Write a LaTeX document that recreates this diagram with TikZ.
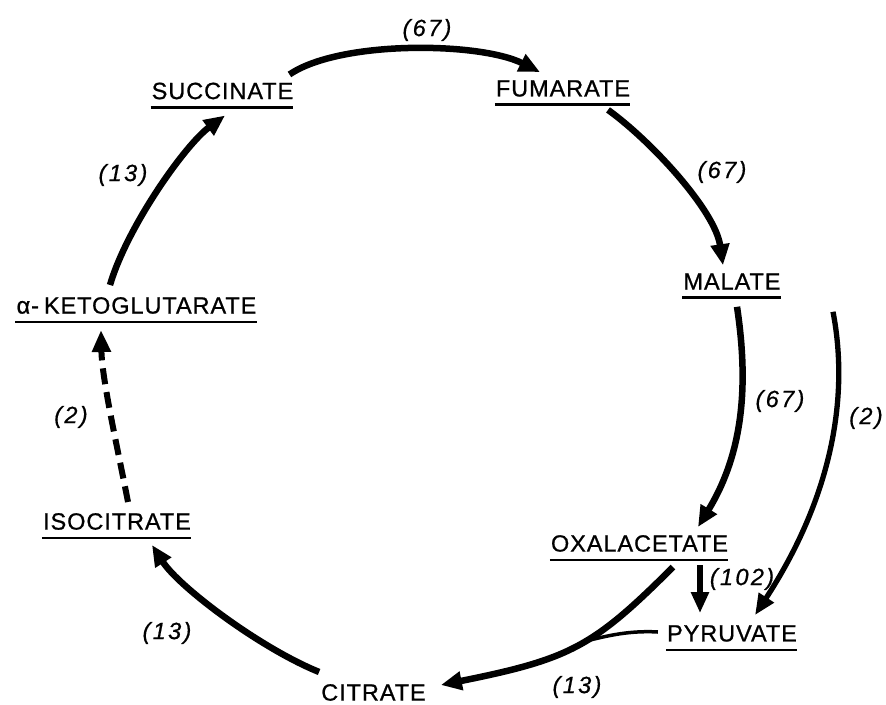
\documentclass[tikz,border=0pt]{standalone}
\usepackage{fontspec}
\setmainfont{Liberation Sans}
\newfontfamily\chemfont[LetterSpace=4,FakeBold=0.8]{Liberation Sans}
\newfontfamily\numfont[LetterSpace=10,FakeBold=0.6]{Liberation Sans}
\usetikzlibrary{arrows.meta}
\tikzset{
  chem/.style={font=\chemfont\fontsize{23.5}{23.5}\selectfont, inner sep=0pt},
  num/.style={font=\numfont\itshape\fontsize{23.5}{23.5}\selectfont, inner sep=0pt},
  ulline/.style={line width=2.8pt},
  flow/.style={line width=6.5pt, -{Triangle[length=21pt,width=18pt]}},
  thinflow/.style={line width=5.3pt, -{Triangle[length=21pt,width=17pt]}},
  joinline/.style={line width=3.5pt},
  dashflow/.style={line width=6pt, dash pattern=on 16pt off 8pt, -{Triangle[length=22pt,width=18pt]}},
}
\newcommand\underlinenode[1]{\draw[ulline] ([xshift=-1pt,yshift=-8pt]#1.south west) -- ([yshift=-8pt]#1.south east);}
\begin{document}
\begin{tikzpicture}[x=1pt,y=-1pt]
\useasboundingbox (0,0) rectangle (886,704);
% metabolites
\node[chem] (succ) at (222.5,91) {SUCCINATE};
\node[chem] (fum) at (563,88.5) {FUMARATE};
\node[chem] (mal) at (732,281.5) {MALATE};
\node[chem] (akg) at (136.5,305.5) {α-\hspace{5pt}KETOGLUTARATE};
\node[chem] (iso) at (117,521.5) {ISOCITRATE};
\node[chem] (oxa) at (639.5,543.5) {OXALACETATE};
\node[chem] (pyr) at (732,633.5) {PYRUVATE};
\node[chem] (cit) at (373.5,692.5) {CITRATE};
\underlinenode{succ}
\underlinenode{fum}
\underlinenode{mal}
\underlinenode{akg}
\underlinenode{iso}
\underlinenode{oxa}
\underlinenode{pyr}
% flux labels
\node[num] (l1) at (427,30) {(67)};
\node[num] (l2) at (722,172) {(67)};
\node[num] (l3) at (123,175) {(13)};
\node[num] (l4) at (780,401) {(67)};
\node[num] (l5) at (866,418) {(2)};
\node[num] (l6) at (71,417) {(2)};
\node[num] (l7) at (167,633) {(13)};
\node[num] (l8) at (742,579) {(102)};
\node[num] (l9) at (577,687) {(13)};
% connectors
\draw[flow] ([xshift=-4pt,yshift=8pt]succ.north east) .. controls (340,40) and (480,42) .. ([xshift=-23pt,yshift=8pt]fum.north);
\draw[flow] ([xshift=45pt,yshift=-13pt]fum.south) .. controls (650,140) and (715,210) .. ([xshift=-9pt,yshift=8pt]mal.north);
\draw[flow] ([xshift=5pt,yshift=-17pt]mal.south) .. controls (748,380) and (745,450) .. ([xshift=58.5pt,yshift=8pt]oxa.north);
\draw[thinflow] ([xshift=101pt,yshift=-22pt]mal.south) .. controls (850,400) and (830,500) .. ([xshift=23pt,yshift=10pt]pyr.north);
\draw[thinflow] ([xshift=60.5pt,yshift=-13pt]oxa.south) -- ([xshift=-32pt,yshift=12pt]pyr.north);
\draw[flow] ([xshift=33.5pt,yshift=-15pt]oxa.south) .. controls (593,647) and (570,659) .. ([xshift=15pt,yshift=7.5pt]cit.east) coordinate[pos=0.45] (join);
\draw[joinline] ([xshift=-9pt,yshift=1.5pt]pyr.west) .. controls (625,630) and (600,638) .. (join);
\draw[flow] ([xshift=-2pt,yshift=12pt]cit.north west) .. controls (260,648) and (179,587) .. ([xshift=35pt,yshift=-15pt]iso.south);
\draw[dashflow] ([xshift=11pt,yshift=11pt]iso.north) .. controls (118,450) and (102,380) .. ([xshift=-35.5pt,yshift=-16pt]akg.south);
\draw[flow] ([xshift=-26.5pt,yshift=12pt]akg.north) .. controls (127,227) and (185,145) .. ([xshift=2.5pt,yshift=-16pt]succ.south);
\end{tikzpicture}
\end{document}
